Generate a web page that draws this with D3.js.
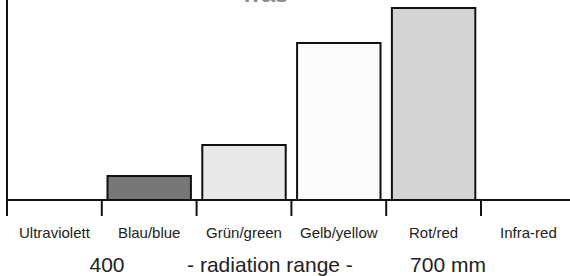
<!DOCTYPE html>
<html><head><meta charset="utf-8">
<script src="https://cdn.jsdelivr.net/npm/d3@7"></script>
<style>html,body{margin:0;padding:0;background:#fff;overflow:hidden}</style>
</head><body><svg id="c" width="570" height="276"></svg>
<script>
const categories = ["Ultraviolett","Blau/blue","Grün/green","Gelb/yellow","Rot/red","Infra-red"];
const values = [0, 24, 55, 157, 192, 0];
const fills = ["#ffffff","#777777","#e8e8e8","#fcfcfc","#d4d4d4","#ffffff"];
const rangeLabels = ["400","- radiation range -","700 mm"];
const titleText = "was";

const svg = d3.select("#c");
const xb = d3.scaleBand().domain(categories).range([7, 575.8]);
const y = d3.scaleLinear().domain([0, 200]).range([200, 0]);

svg.append("text").attr("x", 265).attr("y", 2).attr("text-anchor","middle")
  .attr("font-family","Liberation Sans, Arial, sans-serif").attr("font-size",26).attr("fill","#888")
  .text(titleText);

// bars
categories.forEach((c,i)=>{
  if (values[i] <= 0) return;
  const bx = xb(c) + xb.bandwidth()*0.06, bw = xb.bandwidth()*0.88;
  svg.append("rect").attr("x", bx).attr("y", y(values[i]))
    .attr("width", bw).attr("height", y(0)-y(values[i]))
    .attr("fill", fills[i]).attr("stroke","#111").attr("stroke-width",2);
});

// y axis line
svg.append("line").attr("x1",7).attr("x2",7).attr("y1",y(200)).attr("y2",216)
  .attr("stroke","#111").attr("stroke-width",2);
// baseline
svg.append("line").attr("x1",7).attr("x2",570).attr("y1",y(0)).attr("y2",y(0))
  .attr("stroke","#111").attr("stroke-width",2);
// ticks at band boundaries
categories.forEach(c=>{
  svg.append("line").attr("x1",xb(c)).attr("x2",xb(c)).attr("y1",y(0)).attr("y2",216)
    .attr("stroke","#111").attr("stroke-width",2);
});
// category labels
categories.forEach(c=>{
  svg.append("text").attr("x", xb(c)+xb.bandwidth()/2).attr("y",238).attr("text-anchor","middle")
    .attr("font-family","Liberation Sans, Arial, sans-serif").attr("font-size",15).attr("fill","#222")
    .text(c);
});
// range labels
const rx = [107, 270, 448];
rangeLabels.forEach((t,i)=>{
  svg.append("text").attr("x", rx[i]).attr("y",272).attr("text-anchor","middle")
    .attr("font-family","Liberation Sans, Arial, sans-serif").attr("font-size",21).attr("fill","#222")
    .text(t);
});
</script></body></html>
